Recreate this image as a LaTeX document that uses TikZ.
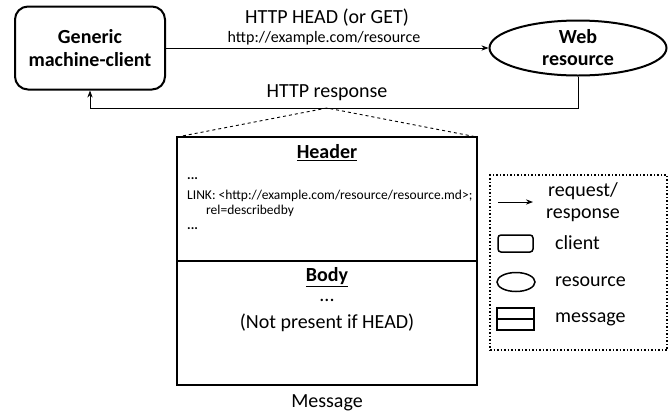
\documentclass[tikz,border=0pt]{standalone}
\usepackage{fontspec}
\setmainfont{Carlito}
\usepackage{tikz}
\usetikzlibrary{shapes.geometric, arrows.meta, positioning}
\tikzstyle{client} = [rectangle, 
rounded corners=13pt, 
minimum width=150pt, 
minimum height=83pt, align=center, 
draw=black, line width=2pt, font=\fontsize{20}{23}\selectfont\bfseries]
\tikzstyle{resource} = [ellipse, 
minimum width=177pt, 
minimum height=55pt, inner sep=0pt, align=center, 
draw=black, line width=2pt, font=\fontsize{20}{22}\selectfont\bfseries]
\tikzstyle{part} = [rectangle, 
minimum width=300pt, 
minimum height=124pt, inner sep=0pt, outer sep=0pt, 
draw=black, line width=2pt]
\tikzstyle{arrow} = [line width=0.9pt,->,>=Stealth]
\tikzstyle{txt} = [font=\fontsize{20}{22}\selectfont, inner sep=0pt]
\tikzstyle{small} = [font=\fontsize{13.5}{15}\selectfont, anchor=west, inner sep=0pt]

\begin{document}
\begin{tikzpicture}[x=1pt, y=-1pt]
        \useasboundingbox (0,0) rectangle (669,416);
        \node[client] (client) at (90,48) {Generic\\machine-client};
        \node[resource] (web) at (578,48) {Web\\resource};
        \draw[arrow] (client) -- (web);
        \node[txt] (reqlabel) at (327,18) {HTTP HEAD (or GET)};
        \node[txt, font=\fontsize{16}{18}\selectfont] (urllabel) at (324,38) {http://example.com/resource};

        \coordinate (turn) at (327,108);
        \draw[arrow] (web.south) -- (web.south |- turn) -| (client.south);
        \node[txt] (rsplabel) at (327,93) {HTTP response};

        \node[part] (header) at (327,199) {};
        \node[part, below=0pt of header] (body) {};
        \draw[dashed, line width=0.9pt] (header.north west) -- (turn) -- (header.north east);
        \node[txt, font=\fontsize{20}{22}\selectfont\bfseries] (headtitle) at (327,153) {\underline{Header}};
        \node[small, font=\fontsize{13.5}{15}\selectfont\bfseries] (dots1) at (187,179) {...};
        \node[small] (link) at (187,196) {LINK: <http://example.com/resource/resource.md>;};
        \node[small] (rel) at (206,211) {rel=describedby};
        \node[small, font=\fontsize{13.5}{15}\selectfont\bfseries] (dots2) at (187,229) {...};
        \node[txt, font=\fontsize{20}{22}\selectfont\bfseries] (bodytitle) at (327,277) {\underline{Body}};
        \node[txt] (dots3) at (327,300) {...};
        \node[txt] (notpresent) at (327,323) {(Not present if HEAD)};
        \node[txt] (msglabel) at (327,403) {Message};

        \node[draw, dotted, line width=1.5pt, minimum width=177pt, minimum height=175pt] (legend) at (578.5,262.5) {};
        \coordinate (la) at (498,202);
        \coordinate (lb) at (533,202);
        \draw[arrow] (la) -- (lb);
        \node[txt, align=center] (lreq) at (583,202) {request/\\response};
        \node[draw, rounded corners=3pt, line width=1.5pt, minimum width=35pt, minimum height=17pt] (lclient) at (515.5,243.5) {};
        \node[txt, anchor=west] (lclienttxt) at (555,243) {client};
        \node[ellipse, draw, line width=1.5pt, minimum width=38pt, minimum height=19pt, inner sep=0pt] (lweb) at (516,282) {};
        \node[txt, anchor=west] (lwebtxt) at (555,282) {resource};
        \node[draw, line width=1.5pt, minimum width=37pt, minimum height=22pt] (lmsg) at (515.5,319) {};
        \draw[line width=1.5pt] (lmsg.west) -- (lmsg.east);
        \node[txt, anchor=west] (lmsgtxt) at (555,319) {message};
\end{tikzpicture}
\end{document}
